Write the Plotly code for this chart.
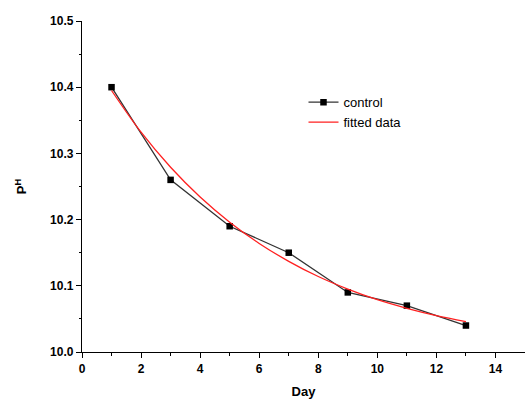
import plotly.graph_objects as go

days = [1, 3, 5, 7, 9, 11, 13]
control = [10.40, 10.26, 10.19, 10.15, 10.09, 10.07, 10.04]

fit_days = [1, 2, 3, 4, 5, 6, 7, 8, 9, 10, 11, 12, 13]
fitted = [10.395, 10.332, 10.279, 10.234, 10.196, 10.164, 10.137, 10.114, 10.095, 10.079, 10.066, 10.055, 10.046]

x_ticks = [0, 2, 4, 6, 8, 10, 12, 14]
y_ticks = [10.0, 10.1, 10.2, 10.3, 10.4, 10.5]

fig = go.Figure()
fig.add_trace(go.Scatter(
    x=days, y=control, mode="lines+markers", name="control",
    line=dict(color="#333333", width=1.3),
    marker=dict(symbol="square", size=6.5, color="black"),
))
fig.add_trace(go.Scatter(
    x=fit_days, y=fitted, mode="lines", name="fitted data",
    line=dict(color="#ff2020", width=1.3, shape="spline"),
))

tick_font = dict(family="Liberation Sans, Arial", size=12, color="black")
fig.update_layout(
    width=525, height=399,
    margin=dict(l=82, r=0, t=21, b=47),
    paper_bgcolor="white", plot_bgcolor="white",
    showlegend=True,
    legend=dict(x=0.5, y=0.80, xanchor="left", yanchor="top",
                font=dict(family="Liberation Sans, Arial", size=13, color="black"),
                bgcolor="rgba(0,0,0,0)", tracegroupgap=0, itemwidth=30),
    xaxis=dict(
        range=[0, 15], tickvals=x_ticks, ticktext=["<b>%d</b>" % v for v in x_ticks],
        showline=True, linecolor="black", linewidth=1.3, showgrid=False, zeroline=False,
        ticks="outside", ticklen=5, tickwidth=1.2, tickcolor="black",
        tickfont=tick_font,
        minor=dict(dtick=1, ticks="outside", ticklen=3, tickcolor="black", tickwidth=1),
        title=dict(text="<b>Day</b>", font=dict(family="Liberation Sans, Arial", size=13, color="black"), standoff=12),
    ),
    yaxis=dict(
        range=[10.0, 10.5], tickvals=y_ticks, ticktext=["<b>%.1f</b>" % v for v in y_ticks],
        showline=True, linecolor="black", linewidth=1.3, showgrid=False, zeroline=False,
        ticks="outside", ticklen=5, tickwidth=1.2, tickcolor="black",
        tickfont=tick_font,
        minor=dict(dtick=0.05, ticks="outside", ticklen=2, tickcolor="black", tickwidth=1),
        title=dict(text="<b>P<sup>H</sup></b>", font=dict(family="Liberation Sans, Arial", size=13, color="black"), standoff=20),
    ),
)

fig.write_html("out.html")
